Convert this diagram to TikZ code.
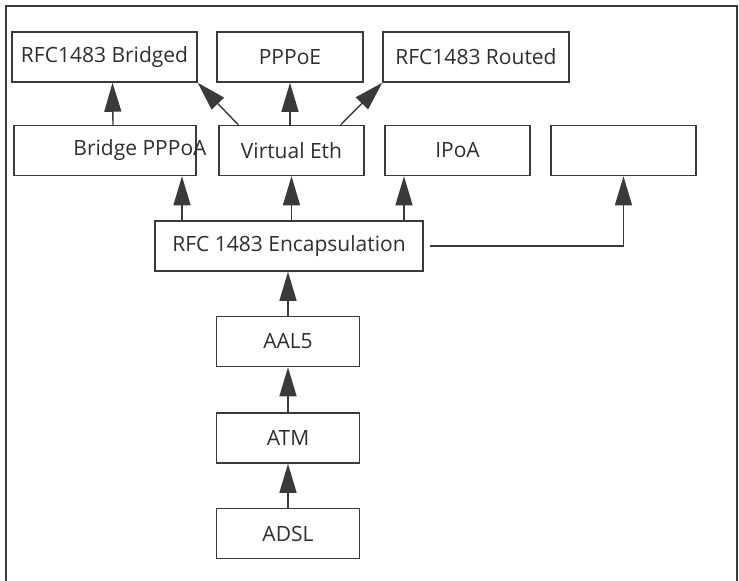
\documentclass[tikz,border=0pt]{standalone}
\usepackage{fontspec}
\setmainfont{Open Sans}
\usetikzlibrary{arrows.meta}
\definecolor{inkgray}{HTML}{2E2E2E}
\definecolor{linegray}{HTML}{3A3A3A}
\tikzset{
  box/.style={draw=linegray,line width=1.5pt,rectangle,inner sep=0pt,
    minimum height=50,text=inkgray,font=\fontsize{21}{24}\selectfont},
  arr/.style={draw=linegray,line width=1.4pt,-{Triangle[length=29pt,width=17pt]}},
}
\begin{document}
\begin{tikzpicture}[x=1pt,y=-1pt]
  \useasboundingbox (0,0) rectangle (739,581);
  % outer frame (runs off the bottom)
  \draw[linegray,line width=1.5pt] (6,581) -- (6,6) -- (737,6) -- (737,581);

  % top row
  \node[box,minimum width=185] (bridged) at (104.5,57) {RFC1483 Bridged};
  \node[box,minimum width=146] (pppoe) at (290,57) {PPPoE};
  \node[box,minimum width=186] (routed) at (476,57) {RFC1483 Routed};

  % second row
  \node[box,minimum width=182] (bpppoa) at (105,150.5) {};
  \node[text=inkgray,font=\fontsize{21}{24}\selectfont] (bpppoatxt) at (140,150.5) {Bridge PPPoA};
  \node[box,minimum width=145] (veth) at (291.5,150.5) {Virtual Eth};
  \node[box,minimum width=145] (ipoa) at (457.5,150.5) {IPoA};
  \node[box,minimum width=145] (blank) at (623.5,150.5) {};

  % stack
  \node[box,minimum width=268] (encap) at (289,246) {RFC 1483 Encapsulation};
  \node[box,minimum width=143] (aal) at (288,341.5) {AAL5};
  \node[box,minimum width=143] (atm) at (288,438) {ATM};
  \node[box,minimum width=143] (adsl) at (288,533.5) {ADSL};

  % connectors
  \draw[arr] ([xshift=8]bpppoa.north) -- ([xshift=8]bridged.south);
  \draw[arr] ([xshift=20]veth.north west) -- (bridged.south east);
  \draw[arr] (veth.north -| pppoe.south) -- (pppoe.south);
  \draw[arr] ([xshift=-24]veth.north east) -- (routed.south west);
  \draw[arr] ([xshift=-107]encap.north) -- ([xshift=77]bpppoa.south);
  \draw[arr] (encap.north -| veth.south) -- (veth.south);
  \draw[arr] ([xshift=115]encap.north) -- ([xshift=-53.5]ipoa.south);
  \draw[arr] ([xshift=6]encap.east) -- (blank.south |- encap.east) -- (blank.south);
  \draw[arr] (aal.north) -- (aal.north |- encap.south);
  \draw[arr] (atm.north) -- (aal.south);
  \draw[arr] (adsl.north) -- (atm.south);
\end{tikzpicture}
\end{document}
